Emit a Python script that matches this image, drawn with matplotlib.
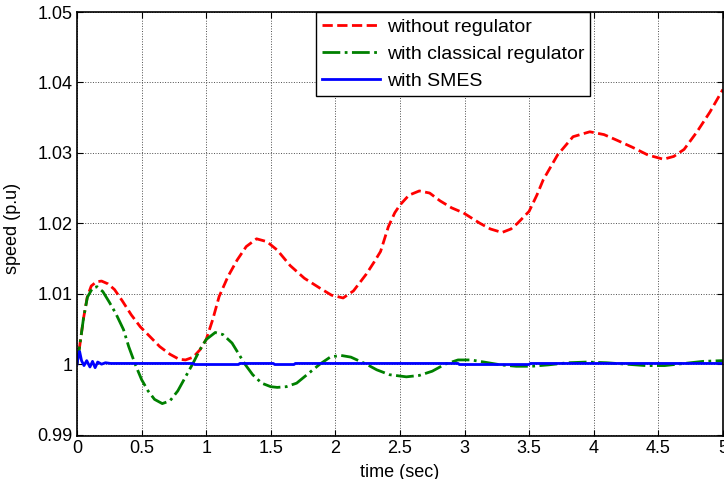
import matplotlib
matplotlib.use("Agg")
import matplotlib.pyplot as plt
import numpy as np

plt.rcParams['font.family'] = ['Liberation Sans', 'DejaVu Sans']

# temps (s) et vitesse (p.u)
t_sans = [0.00, 0.02, 0.05, 0.08, 0.11, 0.15, 0.19, 0.24, 0.29, 0.35, 0.42, 0.49,
          0.56, 0.64, 0.72, 0.79, 0.84, 0.90, 0.95, 1.00, 1.05, 1.10, 1.17, 1.24,
          1.31, 1.39, 1.47, 1.55, 1.65, 1.76, 1.88, 1.97, 2.06, 2.14, 2.24, 2.30,
          2.35, 2.41, 2.46, 2.50, 2.57, 2.65, 2.73, 2.81, 2.90, 2.99, 3.12, 3.20,
          3.29, 3.36, 3.41, 3.50, 3.56, 3.61, 3.72, 3.84, 3.97, 4.08, 4.18, 4.30,
          4.42, 4.54, 4.62, 4.70, 4.80, 4.90, 5.00]
v_sans = [1.0000, 1.0025, 1.0065, 1.0096, 1.0111, 1.0117, 1.0118, 1.0114, 1.0106, 1.0090, 1.0070, 1.0053,
          1.0040, 1.0025, 1.0014, 1.0007, 1.0006, 1.0010, 1.0020, 1.0035, 1.0063, 1.0096, 1.0125, 1.0148,
          1.0167, 1.0178, 1.0174, 1.0162, 1.0140, 1.0122, 1.0108, 1.0098, 1.0094, 1.0104, 1.0128, 1.0145,
          1.0160, 1.0195, 1.0215, 1.0226, 1.0240, 1.0246, 1.0243, 1.0232, 1.0222, 1.0215, 1.0200, 1.0192,
          1.0187, 1.0192, 1.0200, 1.0217, 1.0240, 1.0262, 1.0297, 1.0323, 1.0330, 1.0326, 1.0318, 1.0308,
          1.0297, 1.0291, 1.0295, 1.0305, 1.0330, 1.0358, 1.0390]

t_class = [0.00, 0.02, 0.05, 0.08, 0.12, 0.155, 0.20, 0.25, 0.30, 0.36, 0.40, 0.45,
           0.50, 0.55, 0.60, 0.66, 0.72, 0.78, 0.84, 0.90, 0.95, 1.00, 1.07, 1.13,
           1.20, 1.25, 1.30, 1.36, 1.43, 1.50, 1.55, 1.62, 1.70, 1.78, 1.88, 1.96,
           2.04, 2.12, 2.24, 2.32, 2.42, 2.55, 2.65, 2.75, 2.85, 2.95, 3.05, 3.15,
           3.28, 3.40, 3.52, 3.65, 3.80, 3.95, 4.10, 4.25, 4.40, 4.55, 4.70, 4.85, 5.00]
v_class = [1.0000, 1.0025, 1.0065, 1.0095, 1.0108, 1.0110, 1.0103, 1.0088, 1.0072, 1.0049, 1.0025, 1.0000,
           0.9978, 0.9962, 0.9950, 0.9944, 0.9948, 0.9962, 0.9982, 1.0002, 1.0020, 1.0035, 1.0045, 1.0042,
           1.0030, 1.0015, 1.0000, 0.9985, 0.9973, 0.9968, 0.9967, 0.9968, 0.9973, 0.9985, 1.0000, 1.0010,
           1.00125, 1.0010, 1.0000, 0.9992, 0.9985, 0.9982, 0.9984, 0.9990, 1.0000, 1.0006, 1.0006, 1.0003,
           0.9999, 0.9997, 0.9997, 0.9999, 1.0002, 1.0003, 1.0002, 1.0000, 0.9998, 0.9998, 1.0001, 1.0004, 1.0005]

t_smes = [0.000, 0.010, 0.020, 0.035, 0.054, 0.075, 0.100, 0.120, 0.140, 0.160, 0.190, 0.220,
          0.260, 0.900, 0.910, 1.250, 1.260, 1.520, 1.530, 1.680, 1.690, 2.950, 2.960, 3.500,
          3.510, 5.000]
v_smes = [1.0000, 1.0012, 1.0018, 1.0005, 0.9998, 1.0005, 0.9996, 1.0004, 0.9995, 1.0003, 1.0000, 1.0002,
          1.0001, 1.0001, 0.99995, 0.99995, 1.0001, 1.0001, 0.99995, 0.99995, 1.0001, 1.0001, 0.99995, 0.99995,
          1.0001, 1.0001]

x_ticks = [0, 0.5, 1, 1.5, 2, 2.5, 3, 3.5, 4, 4.5, 5]
x_labels = ['0', '0.5', '1', '1.5', '2', '2.5', '3', '3.5', '4', '4.5', '5']
y_ticks = [0.99, 1.0, 1.01, 1.02, 1.03, 1.04, 1.05]
y_labels = ['0.99', '1', '1.01', '1.02', '1.03', '1.04', '1.05']

fig = plt.figure(figsize=(7.24, 4.79), dpi=100)
ax = fig.add_axes([0.1064, 0.0898, 0.892, 0.885])

ax.plot(t_sans, v_sans, color='red', linestyle='--', linewidth=2, label='without regulator')
ax.plot(t_class, v_class, color='green', linestyle='-.', linewidth=2, label='with classical regulator')
ax.plot(t_smes, v_smes, color='blue', linestyle='-', linewidth=2, label='with SMES')

ax.set_xlim(0, 5)
ax.set_ylim(0.9898, 1.05)
ax.set_xticks(x_ticks)
ax.set_xticklabels(x_labels)
ax.set_yticks(y_ticks)
ax.set_yticklabels(y_labels)
ax.tick_params(direction='in', top=True, right=True, length=4, width=0.8,
               labelsize=13, pad=3)
ax.grid(True, linestyle=':', color='0.3', linewidth=0.7)
for s in ax.spines.values():
    s.set_linewidth(1.2)

ax.set_xlabel('time (sec)', fontsize=13)
ax.set_ylabel('speed (p.u)', fontsize=13)
ax.xaxis.set_label_coords(0.5, -0.065)
ax.yaxis.set_label_coords(-0.086, 0.49)

leg = ax.legend(loc='upper left', bbox_to_anchor=(0.370, 1.0), borderaxespad=0,
                fontsize=14, handlelength=3.0, handletextpad=0.35,
                labelspacing=0.5, borderpad=0.3, fancybox=False, framealpha=1,
                edgecolor='black')
leg.get_frame().set_linewidth(1.0)

fig.savefig('out.png', dpi=100)
